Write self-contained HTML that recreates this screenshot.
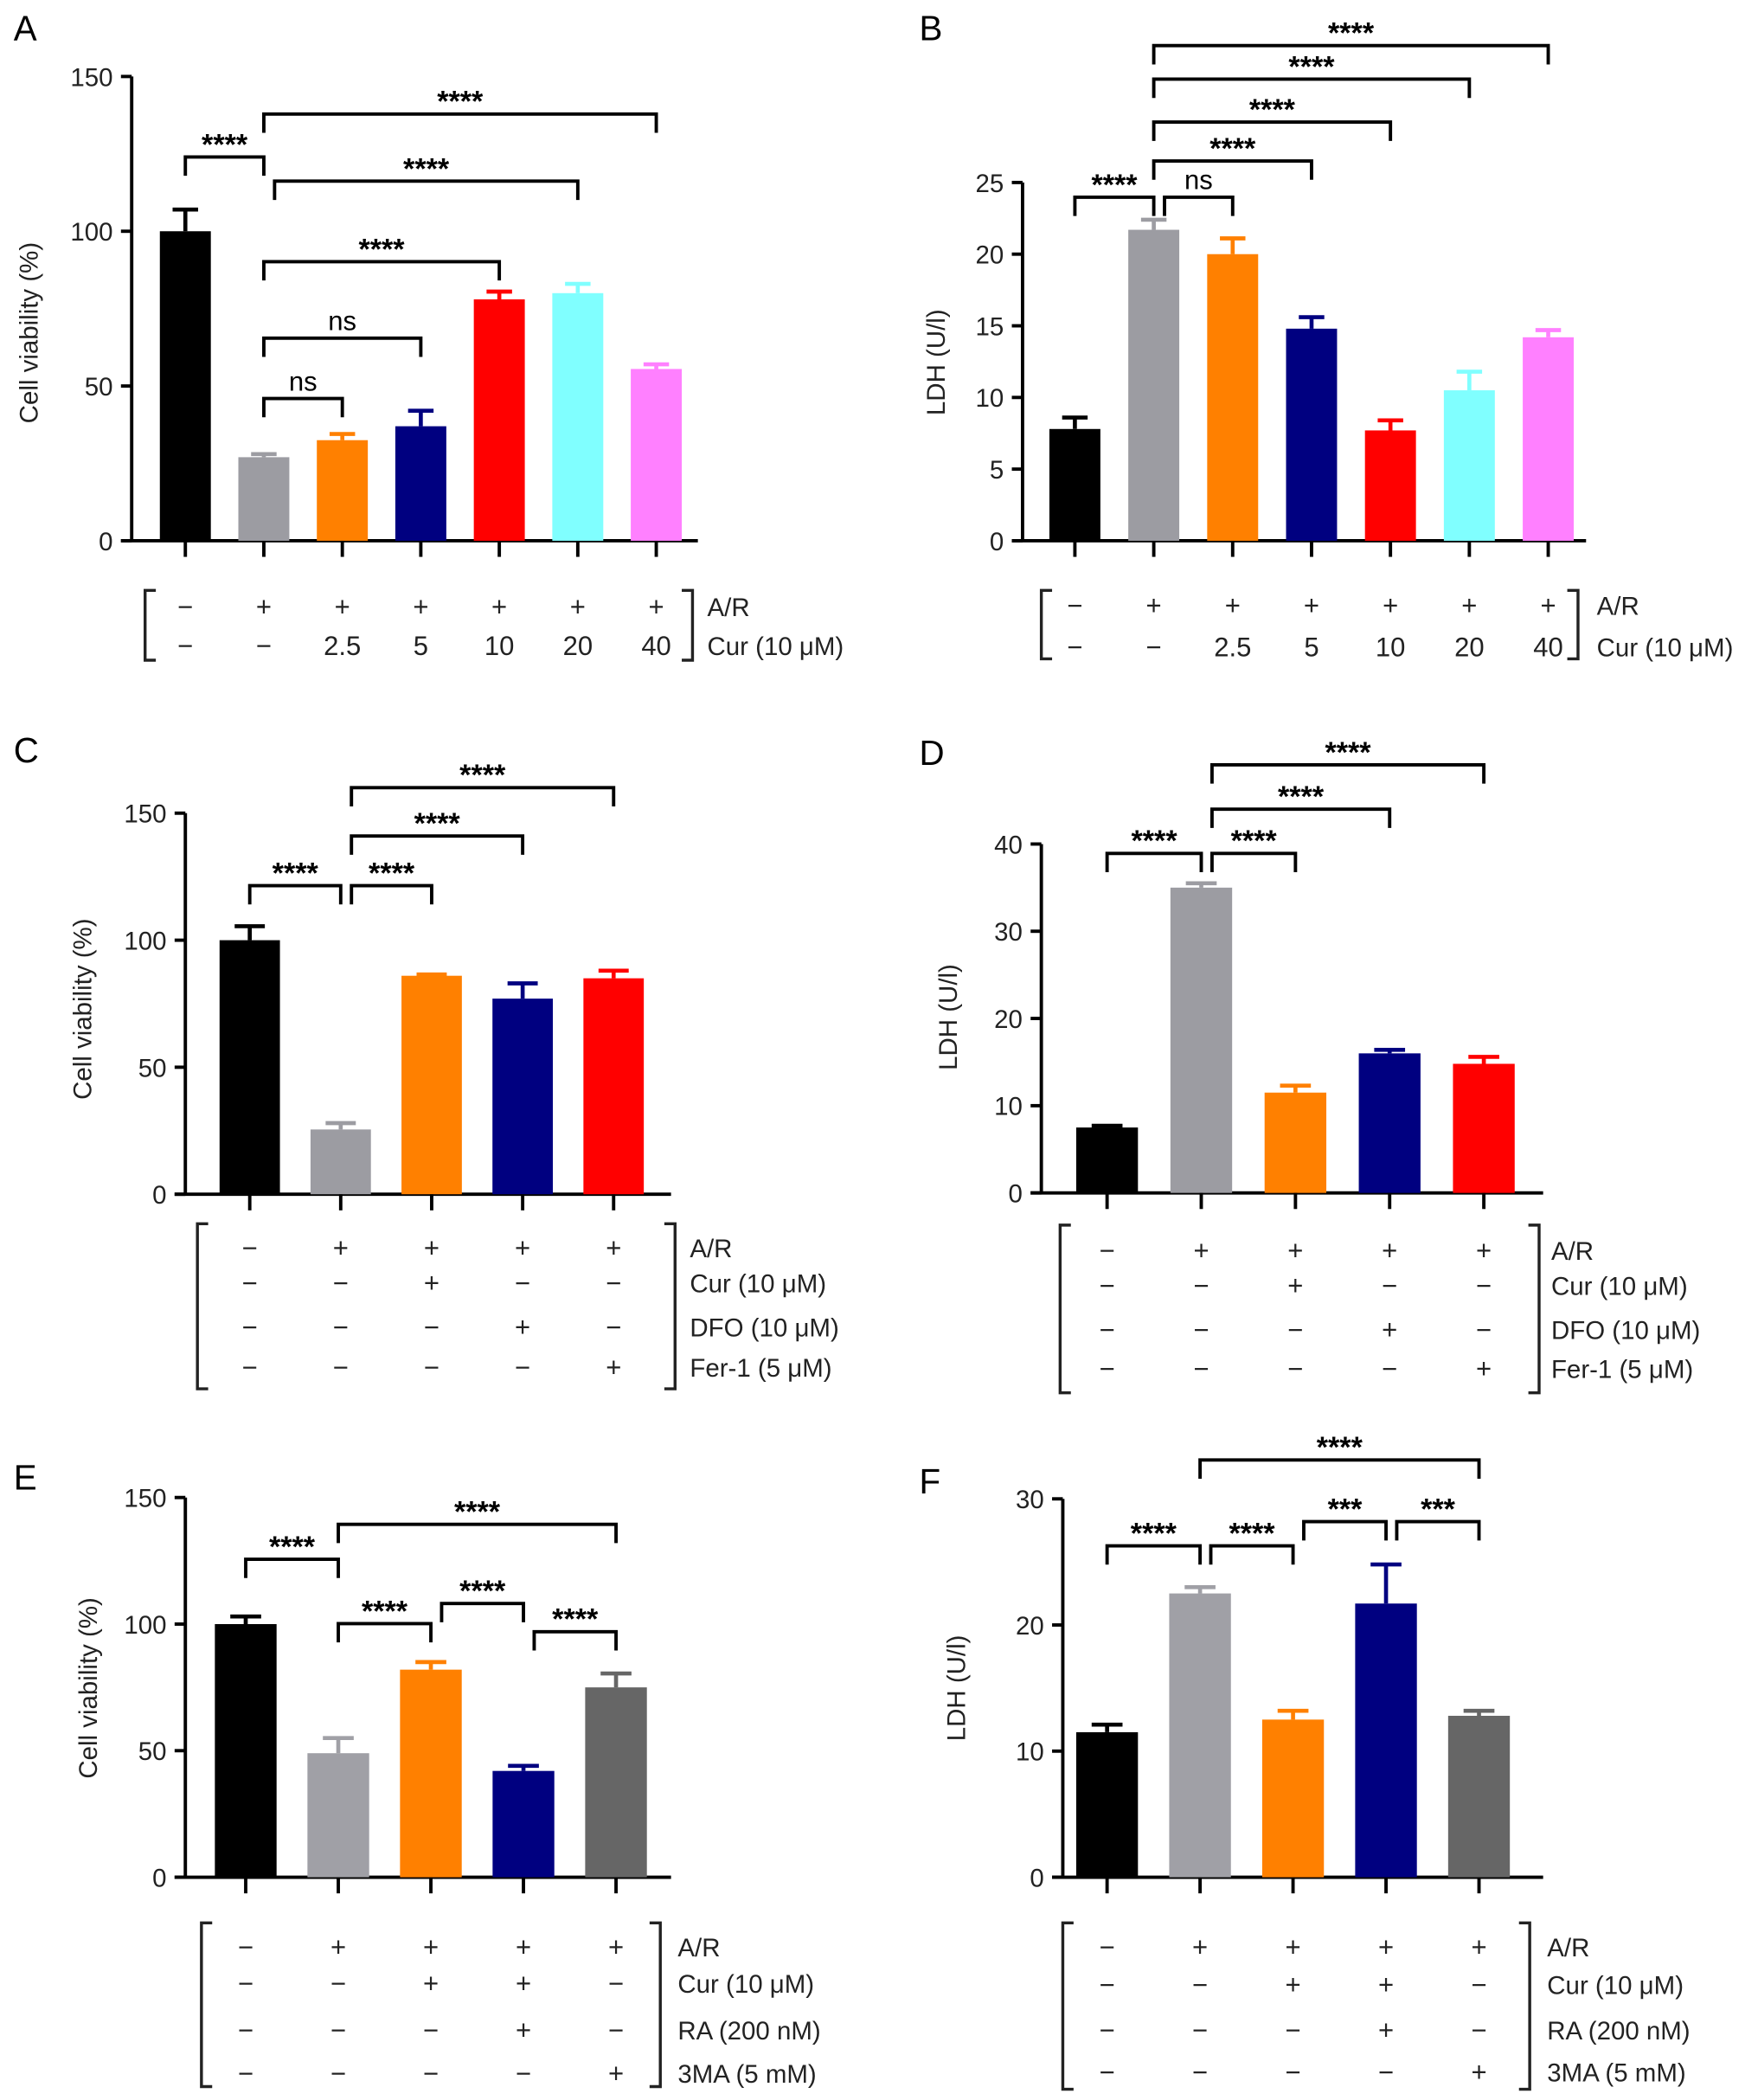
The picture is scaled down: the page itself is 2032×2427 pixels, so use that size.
<!DOCTYPE html>
<html><head><meta charset="utf-8"><style>
html,body{margin:0;padding:0;background:#fff;}
svg{display:block;font-family:"Liberation Sans",Arial,sans-serif;}
</style></head><body>
<svg id="fig" width="2032" height="2427" viewBox="0 0 1310 1565" xmlns="http://www.w3.org/2000/svg"></svg>
<script>
// ---------- DATA ----------
const aValues=[100,27,32.5,37,78,80,55.5];
const aErrors=[107,28,34.5,42,80.5,83,57];
const aTicks=[0,50,100,150];
const aRows=[["\u2212","+","+","+","+","+","+"],["\u2212","\u2212","2.5","5","10","20","40"]];
const aRowLabels=["A/R","Cur (10 \u03bcM)"];

const bValues=[7.8,21.7,20,14.8,7.7,10.5,14.2];
const bErrors=[8.6,22.4,21.1,15.6,8.4,11.8,14.7];
const bTicks=[0,5,10,15,20,25];

const cValues=[100,25.5,86,77,85];
const cErrors=[105.5,28,86.5,83,88];
const cTicks=[0,50,100,150];
const cdRows=[["\u2212","+","+","+","+"],["\u2212","\u2212","+","\u2212","\u2212"],["\u2212","\u2212","\u2212","+","\u2212"],["\u2212","\u2212","\u2212","\u2212","+"]];
const cdRowLabels=["A/R","Cur (10 \u03bcM)","DFO (10 \u03bcM)","Fer-1 (5 \u03bcM)"];

const dValues=[7.5,35,11.5,16,14.8];
const dErrors=[7.7,35.5,12.3,16.4,15.6];
const dTicks=[0,10,20,30,40];

const eValues=[100,49,82,42,75];
const eErrors=[103,55,85,44,80.5];
const eTicks=[0,50,100,150];
const efRows=[["\u2212","+","+","+","+"],["\u2212","\u2212","+","+","\u2212"],["\u2212","\u2212","\u2212","+","\u2212"],["\u2212","\u2212","\u2212","\u2212","+"]];
const efRowLabels=["A/R","Cur (10 \u03bcM)","RA (200 nM)","3MA (5 mM)"];

const fValues=[11.5,22.5,12.5,21.7,12.8];
const fErrors=[12.1,23,13.2,24.8,13.2];
const fTicks=[0,10,20,30];

const colors7=["#000000","#9c9ca2","#ff8000","#000080","#ff0000","#80ffff","#ff80ff"];
const colors5cd=["#000000","#9c9ca2","#ff8000","#000080","#ff0000"];
const colors5ef=["#000000","#a0a0a6","#ff8000","#000080","#666666"];

const NS="http://www.w3.org/2000/svg";
const svg=document.getElementById('fig');
function mk(tag,attrs,parent,text){const e=document.createElementNS(NS,tag);for(const k in attrs)e.setAttribute(k,attrs[k]);if(text!==undefined)e.textContent=text;parent.appendChild(e);return e;}

function panel(p){
  const g=mk('g',{},svg);
  
  
  const y=v=>p.y0+(v-p.vmin)/(p.vmax-p.vmin)*(p.yTop-p.y0);
  const x=i=>p.x0+i*p.dx;
  const L=mk('text',{x:p.letter[0],y:p.letter[1],'font-size':26},g,p.id);
  
  const ax=mk('path',{d:`M${p.axX},${y(p.vmax)}V${p.y0}M${p.axX-8},${p.y0}H${p.axEnd}`,stroke:'#000','stroke-width':2.5,fill:'none'},g);
  
  p.ticks.forEach(t=>{
    mk('line',{x1:p.axX-8,x2:p.axX,y1:y(t),y2:y(t),stroke:'#000','stroke-width':2.5},g);
    const tl=mk('text',{x:p.axX-14,y:y(t)+7,'font-size':19,'text-anchor':'end',fill:'#222'},g,t);
    
  });
  const yl=mk('text',{transform:`translate(${p.ylab[0]},${p.ylab[1]}) rotate(-90)`,'font-size':19,'text-anchor':'middle',fill:'#222'},g,p.ylabel);
  
  p.values.forEach((v,i)=>{
    const cx=x(i),w=p.bw;
    const c=p.colors[i];
    const eb=mk('path',{d:`M${cx},${y(v)}V${y(p.errors[i])}M${cx-w/4},${y(p.errors[i])}H${cx+w/4}`,stroke:c,'stroke-width':3,fill:'none'},g);
    
    const r=mk('rect',{x:cx-w/2,y:y(v),width:w,height:p.y0-y(v),fill:c},g);
    
    mk('line',{x1:cx,x2:cx,y1:p.y0,y2:p.y0+12,stroke:'#000','stroke-width':2.5},g);
  });
  p.sig.forEach(s=>{
    const x1=s[0]<0?x(-s[0]-1)+8:x(s[0]), x2=x(s[1]);
    const by=s[2];
    const b=mk('path',{d:`M${x1},${by+14}V${by}H${x2}V${by+14}`,stroke:'#000','stroke-width':2.5,fill:'none'},g);
    
    const t=mk('text',{x:(x1+x2)/2,y:by-(s[3]==='ns'?6:2),'font-size':s[3]==='ns'?20:22,'font-weight':s[3]==='ns'?'normal':'bold','text-anchor':'middle'},g,s[3]);
    
  });
  p.rows.forEach((row,ri)=>{
    row.forEach((s,i)=>{
      const t=mk('text',{x:x(i),y:p.rowY[ri]+7,'font-size':20,'text-anchor':'middle',fill:'#222'},g,s);
      
    });
    const lt=mk('text',{x:p.lblX,y:p.rowY[ri]+7,'font-size':19,fill:'#222'},g,p.rowLabels[ri]);
    
  });
  const [bt,bb]=p.brY;
  mk('path',{d:`M${p.brL+8},${bt}H${p.brL}V${bb}H${p.brL+8}M${p.brR-8},${bt}H${p.brR}V${bb}H${p.brR-8}`,stroke:'#222','stroke-width':2.2,fill:'none'},g);
}

panel({id:'A',letter:[10,30],axX:98,axEnd:520,y0:403,yTop:57,vmin:0,vmax:150,x0:138,dx:58.5,bw:38,
  ticks:aTicks,values:aValues,errors:aErrors,colors:colors7,ylabel:'Cell viability (%)',ylab:[28,248],
  sig:[[0,1,117,'****'],[1,6,85,'****'],[-2,5,135,'****'],[1,4,195,'****'],[1,3,252,'ns'],[1,2,297,'ns']],
  rows:aRows,rowLabels:aRowLabels,rowY:[452,481],lblX:527,brL:108,brR:516,brY:[440,492]});
panel({id:'B',letter:[685,30],axX:762,axEnd:1182,y0:403,yTop:136,vmin:0,vmax:25,x0:801,dx:58.8,bw:38,
  ticks:bTicks,values:bValues,errors:bErrors,colors:colors7,ylabel:'LDH (U/l)',ylab:[704,270],
  sig:[[0,1,147,'****'],[-2,2,147,'ns'],[1,3,120,'****'],[1,4,91,'****'],[1,5,59,'****'],[1,6,34,'****']],
  rows:aRows,rowLabels:aRowLabels,rowY:[451,482],lblX:1190,brL:776,brR:1176,brY:[440,491]});
panel({id:'C',letter:[10,568],axX:138,axEnd:500,y0:890,yTop:606,vmin:0,vmax:150,x0:186,dx:67.8,bw:45,
  ticks:cTicks,values:cValues,errors:cErrors,colors:colors5cd,ylabel:'Cell viability (%)',ylab:[68,752],
  sig:[[0,1,660,'****'],[-2,2,660,'****'],[-2,3,623,'****'],[-2,4,587,'****']],
  rows:cdRows,rowLabels:cdRowLabels,rowY:[930,956,989,1019],lblX:514,brL:147,brR:503,brY:[912,1035]});
panel({id:'D',letter:[685,570],axX:776,axEnd:1150,y0:889,yTop:629,vmin:0,vmax:40,x0:825,dx:70.2,bw:46,
  ticks:dTicks,values:dValues,errors:dErrors,colors:colors5cd,ylabel:'LDH (U/l)',ylab:[713,758],
  sig:[[0,1,636,'****'],[-2,2,636,'****'],[-2,3,603,'****'],[-2,4,570,'****']],
  rows:cdRows,rowLabels:cdRowLabels,rowY:[932,958,991,1020],lblX:1156,brL:790,brR:1147,brY:[913,1038]});
panel({id:'E',letter:[10,1110],axX:138,axEnd:500,y0:1399,yTop:1116,vmin:0,vmax:150,x0:183,dx:69,bw:46,
  ticks:eTicks,values:eValues,errors:eErrors,colors:colors5ef,ylabel:'Cell viability (%)',ylab:[72,1258],
  sig:[[0,1,1162,'****'],[1,4,1136,'****'],[1,2,1210,'****'],[-3,3,1195,'****'],[-4,4,1216,'****']],
  rows:efRows,rowLabels:efRowLabels,rowY:[1451,1478,1513,1545],lblX:505,brL:150,brR:492,brY:[1433,1555]});
panel({id:'F',letter:[685,1113],axX:792,axEnd:1150,y0:1399,yTop:1117,vmin:0,vmax:30,x0:825,dx:69.3,bw:46,
  ticks:fTicks,values:fValues,errors:fErrors,colors:colors5ef,ylabel:'LDH (U/l)',ylab:[719,1258],
  sig:[[0,1,1152,'****'],[-2,2,1152,'****'],[-3,3,1134,'***'],[-4,4,1134,'***'],[1,4,1088,'****']],
  rows:efRows,rowLabels:efRowLabels,rowY:[1451,1479,1513,1544],lblX:1153,brL:792,brR:1140,brY:[1433,1557]});
</script>
</body></html>
